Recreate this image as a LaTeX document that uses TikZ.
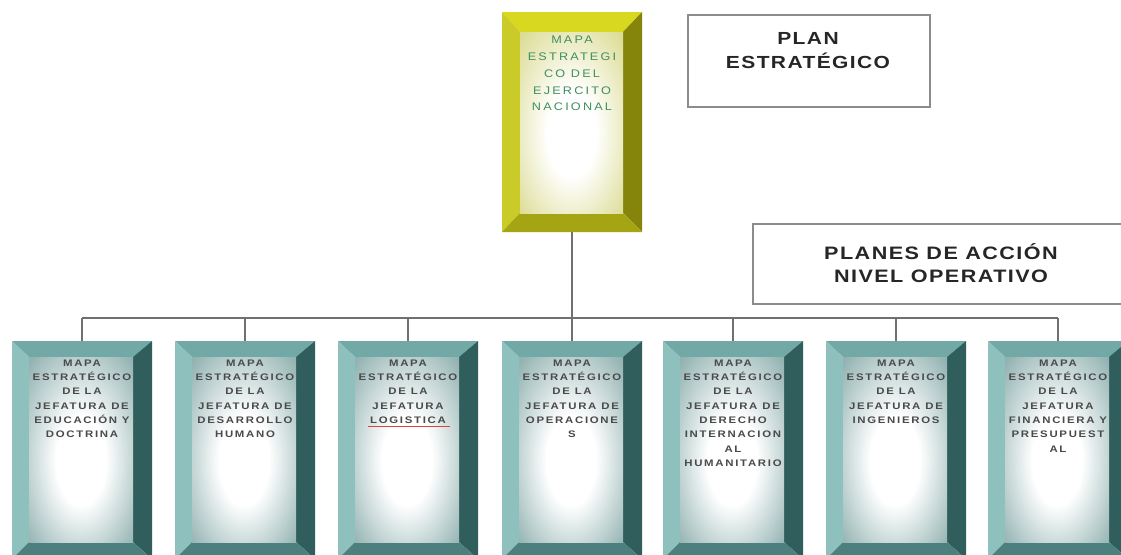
\documentclass[tikz,border=0pt]{standalone}
\usepackage{fontspec}
\setmainfont{Liberation Sans}
\newfontfamily\hdrfam[FakeStretch=1.2,LetterSpace=8]{Liberation Sans}
\newfontfamily\lowfam[FakeStretch=1.2,LetterSpace=18]{Liberation Sans}
\newfontfamily\topfam[FakeStretch=1.15,LetterSpace=20]{Liberation Sans}
\usetikzlibrary{calc}
\definecolor{tT}{HTML}{72A9A7}
\definecolor{tL}{HTML}{8EC0BE}
\definecolor{tR}{HTML}{2F5E5C}
\definecolor{tB}{HTML}{4B807E}
\definecolor{tIn}{HTML}{93B3B2}
\definecolor{yT}{HTML}{D8D820}
\definecolor{yL}{HTML}{CACA28}
\definecolor{yR}{HTML}{85850C}
\definecolor{yB}{HTML}{A5A514}
\definecolor{yIn}{HTML}{DCDC96}
\definecolor{linegray}{HTML}{707070}
\definecolor{boxgray}{HTML}{8C8C8C}
\definecolor{txtgray}{HTML}{4A4A4A}
\definecolor{txtgreen}{HTML}{3F8F5F}
\definecolor{spellred}{HTML}{E04040}
\pgfdeclareradialshading{panelt}{\pgfpoint{0bp}{-4bp}}{color(0bp)=(white); color(12bp)=(white); color(35bp)=(tIn); color(50bp)=(tIn)}
\pgfdeclareradialshading{panely}{\pgfpoint{0bp}{-4bp}}{color(0bp)=(white); color(12bp)=(white); color(35bp)=(yIn); color(50bp)=(yIn)}
\newcommand\bevelframe[6]{%
  \path (#1.north west) coordinate (#1-o1) (#1.north east) coordinate (#1-o2)
        (#1.south east) coordinate (#1-o3) (#1.south west) coordinate (#1-o4);
  \coordinate (#1-i1) at ($(#1-o1)+(#2,#3)$);
  \coordinate (#1-i2) at ($(#1-o2)+(-#4,#3)$);
  \coordinate (#1-i3) at ($(#1-o3)+(-#4,-#5)$);
  \coordinate (#1-i4) at ($(#1-o4)+(#2,-#5)$);
  \fill[#6T] (#1-o1) -- (#1-o2) -- (#1-i2) -- (#1-i1) -- cycle;
  \fill[#6L] (#1-o1) -- (#1-i1) -- (#1-i4) -- (#1-o4) -- cycle;
  \fill[#6R] (#1-o2) -- (#1-o3) -- (#1-i3) -- (#1-i2) -- cycle;
  \fill[#6B] (#1-o4) -- (#1-i4) -- (#1-i3) -- (#1-o3) -- cycle;
  \shade[shading=panel#6] (#1-i1) rectangle (#1-i3);
}
\begin{document}
\begin{tikzpicture}[x=1pt,y=-1pt,
  framebox/.style={rectangle, minimum width=140pt, inner sep=0pt, outer sep=0pt, draw=none},
  conn/.style={draw=linegray, line width=1.4pt},
  hdrbox/.style={rectangle, draw=boxgray, line width=2pt, fill=white, inner sep=0pt},
  hdrtxt/.style={align=center, inner sep=0pt, text=black!85,
    font=\hdrfam\bfseries\fontsize{17.5}{24}\selectfont},
  lowtxt/.style={anchor=north, align=center, inner sep=0pt, text=txtgray,
    font=\lowfam\bfseries\fontsize{9.5}{14.3}\selectfont},
  toptxt/.style={anchor=north, align=center, inner sep=0pt, text=txtgreen,
    font=\topfam\fontsize{11}{16.8}\selectfont}]
\useasboundingbox (0,0) rectangle (1121,554);
\fill[white] (0,0) rectangle (1121,554);

% header boxes
\node[hdrbox, minimum width=242pt, minimum height=92pt] (plan) at (809,61) {};
\node[hdrtxt] (plantxt) at (808,50.5) {PLAN\\ESTRATÉGICO};
\node[hdrbox, minimum width=382pt, minimum height=80pt] (planes) at (944,264) {};
\node[hdrtxt, font=\hdrfam\bfseries\fontsize{18}{23}\selectfont] (planestxt) at (941,263.5) {PLANES DE ACCIÓN\\NIVEL OPERATIVO};

% top box
\node[framebox, minimum height=220pt] (top) at (572,122) {};
\bevelframe{top}{18}{20}{19}{19}{y}
\begin{scope}
\clip (top-i1) rectangle (top-i3);
\node[toptxt] (toptext) at (572,36) {MAPA\\ESTRATEGI\\CO DEL\\EJERCITO\\NACIONAL};
\end{scope}

% lower boxes
\foreach \i/\cx in {1/82,2/245,3/408,4/572,5/733,6/896,7/1058}{
  \node[framebox, minimum height=218pt] (b\i) at (\cx,450) {};
  \bevelframe{b\i}{17}{16}{19}{17}{t}
}
\coordinate (busy) at (0,318);
\draw[conn] (top.south) -- (top.south |- busy);
\draw[conn] (b1.north |- busy) -- (b7.north |- busy);
\foreach \i in {1,...,7}{
  \draw[conn] (b\i.north |- busy) -- (b\i.north);
}

\begin{scope}\clip (b1-i1) rectangle (b1-i3);
\node[lowtxt] (t1) at (82,359.5) {MAPA\\ESTRATÉGICO\\DE LA\\JEFATURA DE\\EDUCACIÓN Y\\DOCTRINA};
\end{scope}
\begin{scope}\clip (b2-i1) rectangle (b2-i3);
\node[lowtxt] (t2) at (245,359.5) {MAPA\\ESTRATÉGICO\\DE LA\\JEFATURA DE\\DESARROLLO\\HUMANO};
\end{scope}
\begin{scope}\clip (b3-i1) rectangle (b3-i3);
\node[lowtxt] (t3) at (408,359.5) {MAPA\\ESTRATÉGICO\\DE LA\\JEFATURA\\LOGISTICA};
\draw[spellred, line width=1pt] ($(t3.south)+(-40,2.5)$) -- ($(t3.south)+(42,2.5)$);
\end{scope}
\begin{scope}\clip (b4-i1) rectangle (b4-i3);
\node[lowtxt] (t4) at (572,359.5) {MAPA\\ESTRATÉGICO\\DE LA\\JEFATURA DE\\OPERACIONE\\S};
\end{scope}
\begin{scope}\clip (b5-i1) rectangle (b5-i3);
\node[lowtxt] (t5) at (733,359.5) {MAPA\\ESTRATÉGICO\\DE LA\\JEFATURA DE\\DERECHO\\INTERNACION\\AL\\HUMANITARIO};
\end{scope}
\begin{scope}\clip (b6-i1) rectangle (b6-i3);
\node[lowtxt] (t6) at (896,359.5) {MAPA\\ESTRATÉGICO\\DE LA\\JEFATURA DE\\INGENIEROS};
\end{scope}
\begin{scope}\clip (b7-i1) rectangle (b7-i3);
\node[lowtxt] (t7) at (1058,359.5) {MAPA\\ESTRATÉGICO\\DE LA\\JEFATURA\\FINANCIERA Y\\PRESUPUEST\\AL};
\end{scope}
\end{tikzpicture}
\end{document}
